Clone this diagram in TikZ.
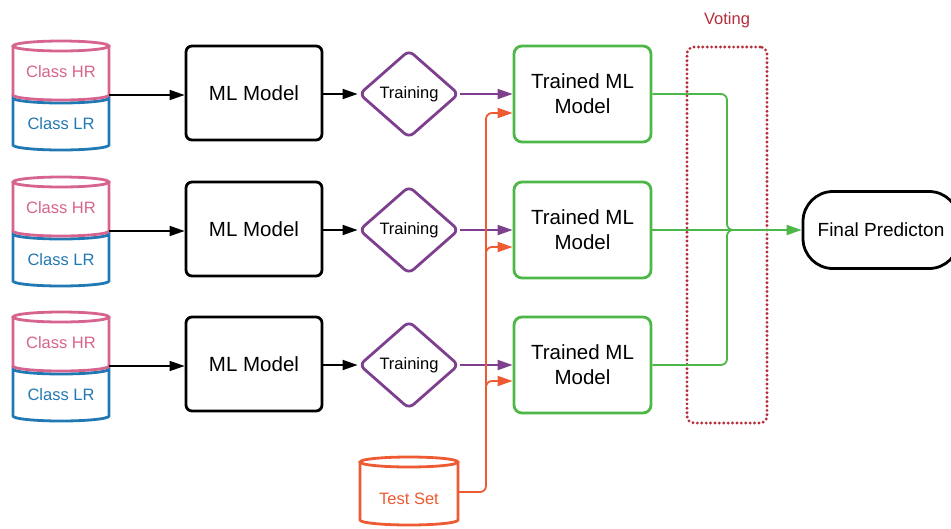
\documentclass[tikz,border=0pt]{standalone}
\usepackage{fontspec}
\setmainfont{Liberation Sans}
\usetikzlibrary{arrows.meta,shapes.geometric}
\definecolor{hrpink}{HTML}{D6648E}
\definecolor{lrblue}{HTML}{2179B3}
\definecolor{trainpurple}{HTML}{7D3F8E}
\definecolor{modelgreen}{HTML}{4DB847}
\definecolor{testorange}{HTML}{EE5A32}
\definecolor{votered}{HTML}{B52E3A}
\tikzset{
  tip/.style={-{Triangle[length=15pt,width=10pt]}},
  mlbox/.style={draw=black, line width=2.8pt, rounded corners=6pt, minimum width=136pt, minimum height=94pt, font=\fontsize{20.5}{24}\selectfont},
  trainbox/.style={draw=trainpurple, line width=2.8pt, diamond, rounded corners=6pt, minimum width=100pt, minimum height=88pt, inner sep=0pt, font=\fontsize{16.5}{20}\selectfont},
  trainedbox/.style={draw=modelgreen, line width=2.8pt, rounded corners=8pt, minimum width=137pt, minimum height=96pt, align=center, font=\fontsize{20.5}{25}\selectfont},
  cyltext/.style={font=\fontsize{16.5}{20}\selectfont},
  conn/.style={line width=1.8pt, tip},
}
\begin{document}
\begin{tikzpicture}[x=1pt,y=-1pt]
\useasboundingbox (0,0) rectangle (951,528);

% three data stacks, each with a model, a training step and a trained model
\foreach \r/\dy in {1/0, 2/136, 3/271}{
  % lower (LR) half of the stacked cylinder
  \draw[lrblue, line width=2.8pt, fill=white]
    (109,98+\dy) arc[start angle=0, end angle=180, x radius=48, y radius=5]
    -- (13,145+\dy) arc[start angle=180, end angle=0, x radius=48, y radius=5]
    -- cycle;
  % upper (HR) half
  \draw[hrpink, line width=2.8pt, fill=white]
    (13,46+\dy) -- (13,95+\dy) arc[start angle=180, end angle=0, x radius=48, y radius=5]
    -- (109,46+\dy);
  \draw[hrpink, line width=2.8pt, fill=white] (61,46+\dy) ellipse[x radius=48, y radius=5];
  \node[cyltext, text=hrpink] (hr\r) at (61,72+\dy) {Class HR};
  \node[cyltext, text=lrblue] (lr\r) at (61,124+\dy) {Class LR};
  \coordinate (c\r) at (109,95+\dy);

  \node[mlbox] (m\r) at (254,93+\dy) {ML Model};
  \node[trainbox] (d\r) at (409,94+\dy) {Training};
  \node[trainedbox] (t\r) at (582.5,94+\dy) {Trained ML\\Model};

  \draw[conn, line width=1.6pt, black] (c\r) -- (c\r -| m\r.west);
  \draw[conn, black] (m\r.east |- d\r.west) -- (d\r.west);
  \draw[conn, trainpurple] (d\r.east) -- (d\r.east -| t\r.west);
}

% voting region
\node[draw=votered, line width=3.2pt, dash pattern=on 0pt off 4.4pt, line cap=round,
      rounded corners=7pt, minimum width=80pt, minimum height=376pt] (vote) at (727,235) {};
\node[text=votered, font=\fontsize{16.5}{20}\selectfont] (votelbl) at (727,20) {Voting};

% final prediction
\node[draw=black, line width=2.8pt, rounded corners=30pt, minimum width=156pt, minimum height=77pt,
      font=\fontsize{19}{23}\selectfont] (f) at (881,230) {Final Predicton};

% votes gathered into the final prediction
\draw[modelgreen, line width=1.8pt, rounded corners=6pt] (t1.east) -- (727,94) -- (727,230) -- (742,230);
\draw[modelgreen, line width=1.8pt, rounded corners=6pt] (t3.east) -- (727,365) -- (727,230) -- (742,230);
\draw[conn, modelgreen] (t2.east) -- (t2.east -| f.west);

% test set cylinder
\draw[testorange, line width=2.8pt, fill=white]
  (360,462) -- (360,520) arc[start angle=180, end angle=0, x radius=49, y radius=5] -- (458,462);
\draw[testorange, line width=2.8pt, fill=white] (409,462) ellipse[x radius=49, y radius=5];
\node[text=testorange, font=\fontsize{16.5}{20}\selectfont] (ts) at (409,499) {Test Set};
\coordinate (tsr) at (458,492);
\coordinate (tsbus) at (486,492);

% test set fed to every trained model
\draw[conn, testorange, rounded corners=6pt] (tsr) -- (tsbus) -- (486,113) -- (t1.west |- 0,113);
\draw[conn, testorange, rounded corners=6pt] (486,262) -- (486,247) -- (t2.west |- 0,247);
\draw[conn, testorange, rounded corners=6pt] (486,396) -- (486,381) -- (t3.west |- 0,381);
\end{tikzpicture}
\end{document}
